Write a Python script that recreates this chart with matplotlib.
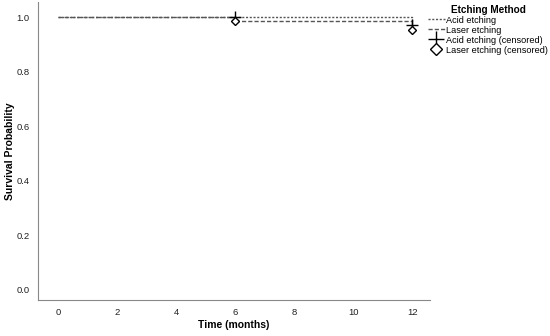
import matplotlib.pyplot as plt

plt.rcParams['font.family'] = ['Liberation Sans', 'DejaVu Sans']

# Kaplan-Meier step data
acid_time = [0, 6, 12]
acid_surv = [1.0, 1.0, 0.97]
laser_time = [0, 6, 12]
laser_surv = [1.0, 0.984, 0.951]

# censored points
acid_cens_t = [6, 12]
acid_cens_s = [1.0, 0.97]
laser_cens_t = [6, 12]
laser_cens_s = [0.984, 0.951]

xticks = [0, 2, 4, 6, 8, 10, 12]
yticks = [0.0, 0.2, 0.4, 0.6, 0.8, 1.0]

fig = plt.figure(figsize=(5.5, 3.36), dpi=100)
ax = fig.add_axes([0.069, 0.107, 0.713, 0.887])

ax.step(acid_time, acid_surv, where='post', color='#555555', linestyle=(0, (1.5, 1.2)),
        linewidth=1.0, label='Acid etching')
ax.step(laser_time, laser_surv, where='post', color='#555555', linestyle=(0, (3, 1.5)),
        linewidth=1.0, label='Laser etching')
ax.plot(acid_cens_t, acid_cens_s, linestyle='none', marker='+', markersize=8,
        markeredgewidth=1.0, color='black', label='Acid etching (censored)')
ax.plot(laser_cens_t, laser_cens_s, linestyle='none', marker='D', markersize=4.5,
        markerfacecolor='white', markeredgecolor='black', markeredgewidth=1.0,
        label='Laser etching (censored)')

ax.set_xlim(-0.68, 12.6)
ax.set_ylim(-0.037, 1.055)
ax.set_xticks(xticks)
ax.set_xticklabels([str(t) for t in xticks])
ax.set_yticks(yticks)
ax.set_yticklabels([f'{t:.1f}' for t in yticks])
ax.tick_params(length=0, labelsize=6.8, colors='#222222', pad=6)

for s in ['top', 'right']:
    ax.spines[s].set_visible(False)
for s in ['left', 'bottom']:
    ax.spines[s].set_color('#888888')
    ax.spines[s].set_linewidth(0.8)

ax.set_xlabel('Time (months)', fontsize=7.5, fontweight='bold', labelpad=2)
ax.set_ylabel('Survival Probability', fontsize=7.5, fontweight='bold', labelpad=1)

leg = ax.legend(loc='upper left', bbox_to_anchor=(0.995, 0.99), frameon=False,
                fontsize=6.6, title='Etching Method', handlelength=1.8,
                handleheight=0.9, handletextpad=0.2, labelspacing=0.1,
                borderaxespad=0, borderpad=0, markerscale=1.4)
leg.get_title().set_fontweight('bold')
leg.get_title().set_fontsize(7.2)

fig.savefig('out.png', dpi=100)
